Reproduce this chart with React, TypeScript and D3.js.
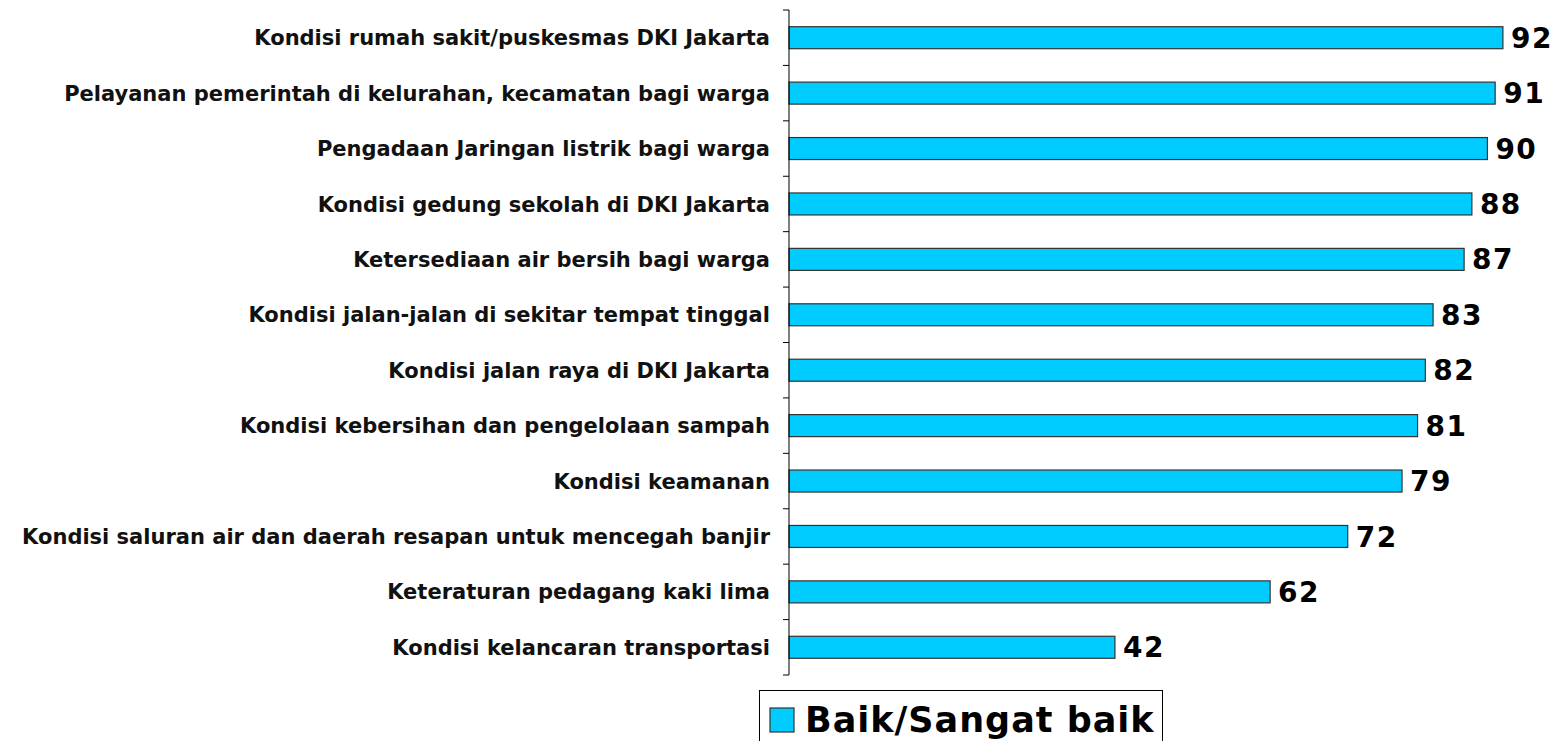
import React from 'react';
import * as d3 from 'd3';

const categories = [
  'Kondisi rumah sakit/puskesmas DKI Jakarta',
  'Pelayanan pemerintah di kelurahan, kecamatan bagi warga',
  'Pengadaan Jaringan listrik bagi warga',
  'Kondisi gedung sekolah di DKI Jakarta',
  'Ketersediaan air bersih bagi warga',
  'Kondisi jalan-jalan di sekitar tempat tinggal',
  'Kondisi jalan raya di DKI Jakarta',
  'Kondisi kebersihan dan pengelolaan sampah',
  'Kondisi keamanan',
  'Kondisi saluran air dan daerah resapan untuk mencegah banjir',
  'Keteraturan pedagang kaki lima',
  'Kondisi kelancaran transportasi',
];
const values = [92, 91, 90, 88, 87, 83, 82, 81, 79, 72, 62, 42];
const seriesName = 'Baik/Sangat baik';

const W = 1564;
const H = 741;
const FONT = '"DejaVu Sans", Verdana, sans-serif';

export default function App() {
  const x = d3.scaleLinear().domain([0, 100]).range([789, 1565]);
  // category bands, one tick between each
  const y = d3.scaleBand<string>().domain(categories).range([10, 675]);
  const bandH = y.bandwidth();
  const ticks = d3.range(categories.length + 1).map(i => 10 + i * y.step());
  const barH = 22;

  return (
    <svg width={W} height={H} style={{ position: 'absolute', left: 0, top: 0 }} fontFamily={FONT}>
      <rect width={W} height={H} fill="#fff" />
      {categories.map((c, i) => {
        const cy = (y(c) as number) + bandH / 2;
        return (
          <g key={c}>
            <rect x={x(0)} y={cy - barH / 2} width={x(values[i]) - x(0)} height={barH}
              fill="#00ccff" stroke="#333" strokeWidth={1.2} />
            <text x={770} y={cy} dy="0.36em" textAnchor="end" fontSize={21} fontWeight="bold" fill="#111">{c}</text>
            <text x={x(values[i]) + 8} y={cy} dy="0.36em" fontSize={28} letterSpacing={1.5} fontWeight="bold" fill="#000">{values[i]}</text>
          </g>
        );
      })}
      <line x1={789} x2={789} y1={ticks[0]} y2={ticks[ticks.length - 1]} stroke="#000" strokeWidth={1} />
      {ticks.map((t, i) => (
        <line key={i} x1={783} x2={789} y1={t} y2={t} stroke="#000" strokeWidth={1} />
      ))}
      <g>
        <rect x={759.5} y={690.5} width={403} height={60} fill="#fff" stroke="#000" strokeWidth={1} />
        <rect x={770} y={708} width={24} height={24} fill="#00ccff" stroke="#333" strokeWidth={1.2} />
        <text x={805} y={732} fontSize={35} letterSpacing={1} fontWeight="bold" fill="#000">{seriesName}</text>
      </g>
    </svg>
  );
}
